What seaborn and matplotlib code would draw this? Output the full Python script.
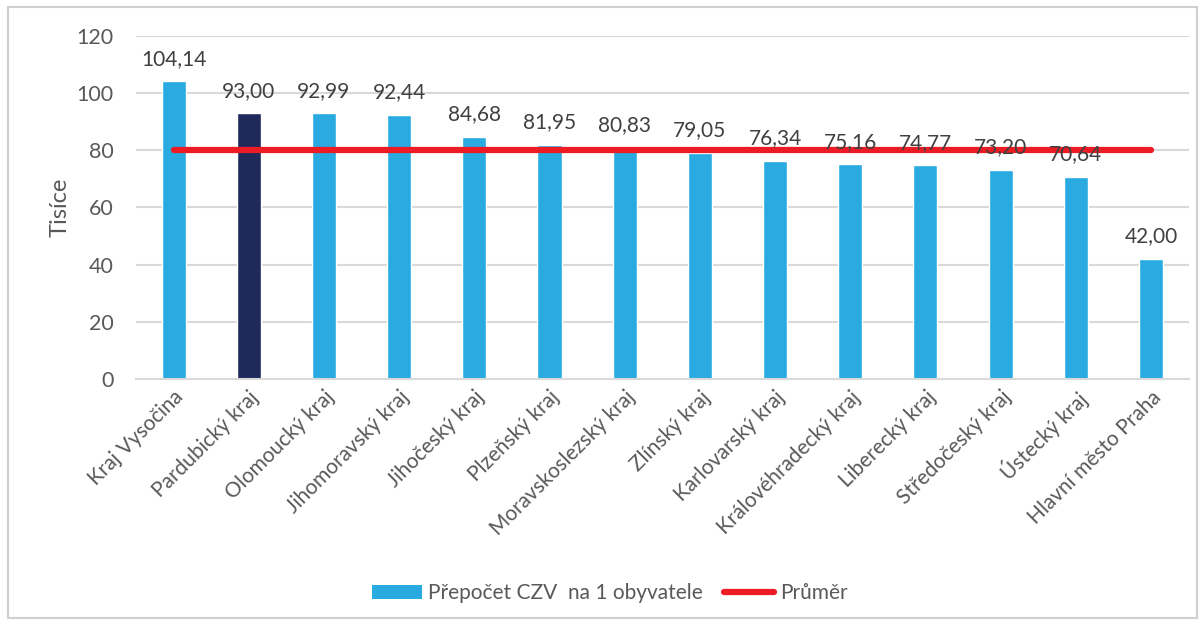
import numpy as np
import pandas as pd
import matplotlib.pyplot as plt
import seaborn as sns
from matplotlib.patches import Patch, Rectangle
from matplotlib.lines import Line2D

regiony = ['Kraj Vysočina', 'Pardubický kraj', 'Olomoucký kraj', 'Jihomoravský kraj',
           'Jihočeský kraj', 'Plzeňský kraj', 'Moravskoslezský kraj', 'Zlínský kraj',
           'Karlovarský kraj', 'Královéhradecký kraj', 'Liberecký kraj',
           'Středočeský kraj', 'Ústecký kraj', 'Hlavní město Praha']
czv_na_obyv = [104.14, 93.00, 92.99, 92.44, 84.68, 81.95, 80.83, 79.05,
               76.34, 75.16, 74.77, 73.20, 70.64, 42.00]
prumer_hodnota = 80.09
prumer = [prumer_hodnota] * len(regiony)

modra = '#29ABE2'
tmava = '#1F2A5A'
cervena = '#ED1C24'
seda_text = '#595959'
barvy = [tmava if r == 'Pardubický kraj' else modra for r in regiony]

df = pd.DataFrame({'region': regiony, 'czv': czv_na_obyv, 'prumer': prumer})

sns.set_style('white')
plt.rcParams['font.family'] = ['Lato', 'DejaVu Sans']

fig = plt.figure(figsize=(12.03, 6.23), dpi=100)
ax = fig.add_axes([0.113, 0.392, 0.875, 0.55])

sns.barplot(data=df, x='region', y='czv', hue='region', palette=barvy,
            legend=False, width=0.32, saturation=1, ax=ax, zorder=2)

sns.lineplot(data=df, x='region', y='prumer', color=cervena, linewidth=4.5,
             solid_capstyle='round', ax=ax, zorder=3)

for cont in ax.containers:
    ax.bar_label(cont, labels=[f'{v:.2f}'.replace('.', ',') for v in cont.datavalues],
                 padding=9, fontsize=15, color='#404040', zorder=4)

ax.set_ylim(0, 120)
ax.set_yticks(range(0, 121, 20))
ax.set_xlim(-0.5, len(regiony) - 0.5)
ax.yaxis.grid(True, color='#D9D9D9', linewidth=1.5, zorder=0)
ax.set_axisbelow(True)
for s in ['top', 'right', 'left']:
    ax.spines[s].set_visible(False)
ax.spines['bottom'].set_color('#D9D9D9')
ax.spines['bottom'].set_linewidth(1.5)

ax.tick_params(axis='y', length=0, pad=16, labelsize=15.5, labelcolor=seda_text)
ax.tick_params(axis='x', length=0, pad=6, labelsize=15, labelcolor=seda_text)
plt.setp(ax.get_xticklabels(), rotation=45, ha='right', rotation_mode='anchor')
ax.set_xlabel('')
ax.set_ylabel('Tisíce', fontsize=17, color=seda_text, labelpad=4)

handles = [Patch(facecolor=modra, edgecolor='none'),
           Line2D([0], [0], color=cervena, linewidth=4.5, solid_capstyle='round')]
fig.legend(handles, ['Přepočet CZV  na 1 obyvatele', 'Průměr'], loc='center',
           bbox_to_anchor=(0.507, 0.048), ncol=2, frameon=False, fontsize=15,
           labelcolor=seda_text, handlelength=2.4, handletextpad=0.3, columnspacing=1.0)

fig.patches.append(Rectangle((0.007, 0.008), 0.988, 0.98, transform=fig.transFigure,
                             fill=False, edgecolor='#D0D0D0', linewidth=1.5))

fig.savefig('out.png', dpi=100)
